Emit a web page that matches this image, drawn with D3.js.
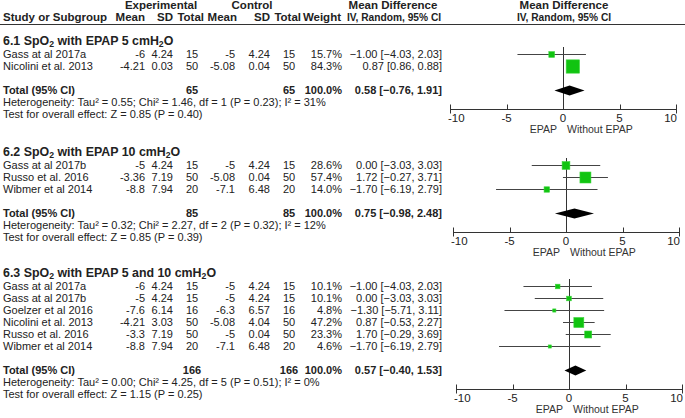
<!DOCTYPE html>
<html><head><meta charset="utf-8">
<script src="https://cdn.jsdelivr.net/npm/d3@7"></script>
<style>body{margin:0;background:#fff}svg{display:block}text{font-family:"Liberation Sans",Arial,sans-serif;fill:#222}</style>
</head><body><svg id="c" width="685" height="418"></svg>
<script>
// ---- data ----
const sectionTitles = ["6.1 SpO₂ with EPAP 5 cmH₂O", "6.2 SpO₂ with EPAP 10 cmH₂O", "6.3 SpO₂ with EPAP 5 and 10 cmH₂O"];
const studies1 = ["Gass at al 2017a", "Nicolini et al. 2013"];
const expMean1 = ["-6", "-4.21"], expSD1 = ["4.24", "0.03"], expN1 = [15, 50];
const ctlMean1 = ["-5", "-5.08"], ctlSD1 = ["4.24", "0.04"], ctlN1 = [15, 50];
const weight1 = [15.7, 84.3], md1 = [-1.00, 0.87], lo1 = [-4.03, 0.86], hi1 = [2.03, 0.88];

const studies2 = ["Gass at al 2017b", "Russo et al. 2016", "Wibmer et al 2014"];
const expMean2 = ["-5", "-3.36", "-8.8"], expSD2 = ["4.24", "7.19", "7.94"], expN2 = [15, 50, 20];
const ctlMean2 = ["-5", "-5.08", "-7.1"], ctlSD2 = ["4.24", "0.04", "6.48"], ctlN2 = [15, 50, 20];
const weight2 = [28.6, 57.4, 14.0], md2 = [0.00, 1.72, -1.70], lo2 = [-3.03, -0.27, -6.19], hi2 = [3.03, 3.71, 2.79];

const studies3 = ["Gass at al 2017a", "Gass at al 2017b", "Goelzer et al 2016", "Nicolini et al. 2013", "Russo et al. 2016", "Wibmer et al 2014"];
const expMean3 = ["-6", "-5", "-7.6", "-4.21", "-3.3", "-8.8"], expSD3 = ["4.24", "4.24", "6.14", "3.03", "7.19", "7.94"], expN3 = [15, 15, 16, 50, 50, 20];
const ctlMean3 = ["-5", "-5", "-6.3", "-5.08", "-5", "-7.1"], ctlSD3 = ["4.24", "4.24", "6.57", "4.04", "0.04", "6.48"], ctlN3 = [15, 15, 16, 50, 50, 20];
const weight3 = [10.1, 10.1, 4.8, 47.2, 23.3, 4.6], md3 = [-1.00, 0.00, -1.30, 0.87, 1.70, -1.70], lo3 = [-4.03, -3.03, -5.71, -0.53, -0.29, -6.19], hi3 = [2.03, 3.03, 3.11, 2.27, 3.69, 2.79];

const totalExpN = [65, 85, 166], totalCtlN = [65, 85, 166];
const totalMD = [0.58, 0.75, 0.57], totalLo = [-0.76, -0.98, -0.40], totalHi = [1.91, 2.48, 1.53];
const heterogeneity = [
  "Heterogeneity: Tau² = 0.55; Chi² = 1.46, df = 1 (P = 0.23); I² = 31%",
  "Heterogeneity: Tau² = 0.32; Chi² = 2.27, df = 2 (P = 0.32); I² = 12%",
  "Heterogeneity: Tau² = 0.00; Chi² = 4.25, df = 5 (P = 0.51); I² = 0%"];
const overallTest = [
  "Test for overall effect: Z = 0.85 (P = 0.40)",
  "Test for overall effect: Z = 0.85 (P = 0.39)",
  "Test for overall effect: Z = 1.15 (P = 0.25)"];
const axisTicks = [-10, -5, 0, 5, 10];
const favoursLeft = "EPAP", favoursRight = "Without EPAP";

// ---- build ----
function mk(st, em, es, en, cm, cs, cn, w, m, l, h) {
  return st.map((s, i) => ({study: s, em: em[i], es: es[i], en: en[i], cm: cm[i], cs: cs[i], cn: cn[i], w: w[i], md: m[i], lo: l[i], hi: h[i]}));
}
const sections = [
  mk(studies1, expMean1, expSD1, expN1, ctlMean1, ctlSD1, ctlN1, weight1, md1, lo1, hi1),
  mk(studies2, expMean2, expSD2, expN2, ctlMean2, ctlSD2, ctlN2, weight2, md2, lo2, hi2),
  mk(studies3, expMean3, expSD3, expN3, ctlMean3, ctlSD3, ctlN3, weight3, md3, lo3, hi3)];

const svg = d3.select("#c");
const FS = 11, HS = 11.5;
const col = {em: 145, es: 173, en: 192, cm: 235, cs: 270, cn: 289, w: 342, md: 442};
const fmt2 = d3.format(".2f");
const mdText = (m, l, h) => `${fmt2(m)} [${fmt2(l)}, ${fmt2(h)}]`;

function txt(x, y, s, opt = {}) {
  const size = opt.size || FS;
  const t = svg.append("text").attr("x", x).attr("y", y + size * 0.36)
    .attr("font-size", size).attr("text-anchor", opt.anchor || "start")
    .attr("font-weight", opt.bold ? "bold" : "normal");
  if (opt.fill) t.style("fill", opt.fill);
  const parts = s.split(/(₂)/);
  let prevSub = false;
  parts.forEach(p => {
    if (p === "₂") { t.append("tspan").attr("font-size", size * 0.7).attr("dy", 1.5).text("2"); prevSub = true; }
    else if (p.length) {
      const ts = t.append("tspan").text(p);
      if (prevSub) ts.attr("dy", -1.5);
      prevSub = false;
    }
  });
  return t;
}

// header
txt(161, 5, "Experimental", {anchor: "middle", bold: true, size: HS});
txt(252, 5, "Control", {anchor: "middle", bold: true, size: HS});
txt(393, 5, "Mean Difference", {anchor: "middle", bold: true, size: HS});
txt(564, 5, "Mean Difference", {anchor: "middle", bold: true, size: HS});
txt(3, 17, "Study or Subgroup", {bold: true, size: HS});
txt(145, 17, "Mean", {anchor: "end", bold: true, size: HS});
txt(173, 17, "SD", {anchor: "end", bold: true, size: HS});
txt(204, 17, "Total", {anchor: "end", bold: true, size: HS});
txt(237, 17, "Mean", {anchor: "end", bold: true, size: HS});
txt(270, 17, "SD", {anchor: "end", bold: true, size: HS});
txt(301, 17, "Total", {anchor: "end", bold: true, size: HS});
txt(341, 17, "Weight", {anchor: "end", bold: true, size: HS});
txt(394, 17, "IV, Random, 95% CI", {anchor: "middle", bold: true, size: 10.2});
txt(564, 17, "IV, Random, 95% CI", {anchor: "middle", bold: true, size: 10.2});
svg.append("line").attr("x1", 0).attr("x2", 685).attr("y1", 24.5).attr("y2", 24.5).attr("stroke", "#333").attr("stroke-width", 1);

const titleY = [41, 152, 273];
const plotLeft = [450, 453, 456];
const RS = 12;
const sizeScale = d3.scaleSqrt().domain([0, 100]).range([0, 14.5]);

sections.forEach((rows, si) => {
  const ty = titleY[si];
  txt(3, ty, sectionTitles[si], {bold: true, size: 12.4});
  const x = d3.scaleLinear().domain([-10, 10]).range([plotLeft[si], plotLeft[si] + 226]);
  const base = ty + 1;
  const rowY = i => base + RS * (i + 1);
  const totY = base + RS * (rows.length + 2);
  const axisY = Math.round(totY + 19) + 0.5;

  svg.append("line").attr("x1", Math.round(x(0)) + 0.5).attr("x2", Math.round(x(0)) + 0.5)
    .attr("y1", rowY(0) - 7).attr("y2", axisY).attr("stroke", "#333");

  rows.forEach((r, i) => {
    const y = rowY(i);
    txt(3, y, r.study);
    txt(col.em, y, r.em, {anchor: "end"});
    txt(col.es, y, r.es, {anchor: "end"});
    txt(col.en, y, String(r.en), {anchor: "middle"});
    txt(col.cm, y, r.cm, {anchor: "end"});
    txt(col.cs, y, r.cs, {anchor: "end"});
    txt(col.cn, y, String(r.cn), {anchor: "middle"});
    txt(col.w, y, r.w.toFixed(1) + "%", {anchor: "end"});
    txt(col.md, y, mdText(r.md, r.lo, r.hi), {anchor: "end"});
    const yy = Math.round(y) + 0.5;
    svg.append("line").attr("x1", x(r.lo)).attr("x2", x(r.hi)).attr("y1", yy).attr("y2", yy).attr("stroke", "#444");
    const s = Math.max(3, sizeScale(r.w));
    svg.append("rect").attr("x", x(r.md) - s / 2).attr("y", yy - s / 2).attr("width", s).attr("height", s)
      .attr("fill", "#11c411").attr("stroke", "#3ad43a").attr("stroke-width", 0.6);
  });

  txt(3, totY, "Total (95% CI)", {bold: true});
  txt(col.en, totY, String(totalExpN[si]), {anchor: "middle", bold: true});
  txt(col.cn, totY, String(totalCtlN[si]), {anchor: "middle", bold: true});
  txt(col.w, totY, "100.0%", {anchor: "end", bold: true});
  txt(col.md, totY, mdText(totalMD[si], totalLo[si], totalHi[si]), {anchor: "end", bold: true});
  txt(3, totY + 12, heterogeneity[si]);
  txt(3, totY + 24, overallTest[si]);

  const dy = Math.round(totY) + 0.5;
  svg.append("path").attr("d", `M${x(totalLo[si])},${dy}L${x(totalMD[si])},${dy - 5}L${x(totalHi[si])},${dy}L${x(totalMD[si])},${dy + 5}Z`).attr("fill", "#000");

  // axis
  svg.append("line").attr("x1", x(-10)).attr("x2", x(10)).attr("y1", axisY).attr("y2", axisY).attr("stroke", "#333");
  axisTicks.forEach(t => {
    const tx = Math.round(x(t)) + 0.5;
    const end = t === -10 || t === 10;
    svg.append("line").attr("x1", tx).attr("x2", tx).attr("y1", axisY - 5).attr("y2", end ? axisY + 4 : axisY).attr("stroke", "#333");
    const a = t === -10 ? "start" : t === 10 ? "end" : "middle";
    const xx = t === -10 ? x(t) - 2 : t === 10 ? x(t) + 1 : x(t);
    txt(xx, axisY + 8, String(t), {anchor: a, size: 11.5});
  });
  txt(x(0) - 6, axisY + 20, favoursLeft, {anchor: "end", fill: "#333", size: 10.5});
  txt(x(0) + 4, axisY + 20, favoursRight, {anchor: "start", fill: "#333", size: 10.5});
});
</script></body></html>
